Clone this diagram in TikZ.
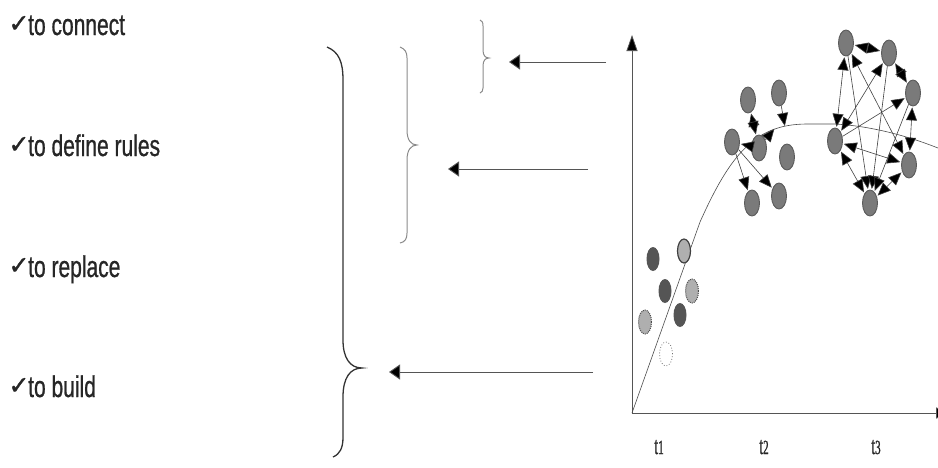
\documentclass[tikz,border=0pt]{standalone}
\usepackage{fontspec}
\setmainfont{Liberation Sans}
\newfontfamily\labfont[FakeStretch=0.7,FakeBold=0.8]{Liberation Sans}
\newfontfamily\tickfont[FakeStretch=0.55,FakeBold=1]{Liberation Serif}
\newfontfamily\symfont[FakeBold=1.5]{DejaVu Sans}
\usetikzlibrary{arrows.meta,shapes.geometric}
\definecolor{nodegray}{HTML}{7A7A7A}
\definecolor{nodeedge}{HTML}{5A5A5A}
\definecolor{darknode}{HTML}{555555}
\definecolor{lightnode}{HTML}{AFAFAF}
\definecolor{bracegray}{HTML}{8A8A8A}
\definecolor{linegray}{HTML}{555555}
\tikzset{
  item/.style={anchor=base west, inner sep=0pt, font=\labfont\fontsize{30}{32}\selectfont, text=black!85},
  tick/.style={inner sep=0pt, font=\symfont\fontsize{25}{27}\selectfont, text=black!85},
  tlabel/.style={anchor=base, inner sep=0pt, font=\tickfont\fontsize{25}{27}\selectfont, text=black!85},
  gnode/.style={ellipse, minimum width=15pt, minimum height=26pt, inner sep=0pt, fill=nodegray, draw=nodeedge, line width=0.9pt},
  dnode/.style={ellipse, minimum width=13pt, minimum height=24pt, inner sep=0pt, fill=darknode},
  lnode/.style={ellipse, minimum width=13pt, minimum height=24pt, inner sep=0pt, fill=lightnode, draw=black!70, densely dotted, line width=1pt},
  snode/.style={ellipse, minimum width=13pt, minimum height=24pt, inner sep=0pt, fill=lightnode, draw=black!75, line width=1.2pt},
  wnode/.style={ellipse, minimum width=13pt, minimum height=24pt, inner sep=0pt, draw=black!55, dotted, line width=0.8pt},
  netarrow/.style={line width=0.6pt, draw=black!75, {Triangle[length=13pt,width=11pt,fill=black]}-{Triangle[length=13pt,width=11pt,fill=black]}, shorten <=1pt, shorten >=1pt},
  onearrow/.style={line width=0.6pt, draw=black!75, -{Triangle[length=13pt,width=11pt,fill=black]}, shorten >=1pt},
  bigarrow/.style={line width=0.9pt, draw=linegray, -{Triangle[length=11pt,width=15pt,fill=black]}},
  axis/.style={line width=0.8pt, draw=linegray, -{Triangle[length=16pt,width=11pt,fill=black]}},
  bracebig/.style={line width=1.3pt, draw=black!80},
  bracesmall/.style={line width=1pt, draw=bracegray},
}
\begin{document}
\begin{tikzpicture}[x=1pt,y=-1pt]
\useasboundingbox (0,0) rectangle (938,467);
\clip (0,0) rectangle (938,467);

% left list
\node[tick] (c1) at (19,24) {✓};
\node[item] (l1) at (28,35) {to connect};
\node[tick] (c2) at (19,145) {✓};
\node[item] (l2) at (28,156) {to define rules};
\node[tick] (c3) at (19,266) {✓};
\node[item] (l3) at (28,277) {to replace};
\node[tick] (c4) at (19,386) {✓};
\node[item] (l4) at (28,397) {to build};

% braces
\draw[bracebig] (327,47) .. controls (339,52) and (343,62) .. (343,80) -- (343,340)
  .. controls (343,358) and (350,368) .. (362,368)
  .. controls (350,368) and (343,378) .. (343,397) -- (343,437)
  .. controls (343,448) and (340,454) .. (333,457);
\draw[bracesmall] (400,47) .. controls (405,49) and (407,52) .. (407,58) -- (407,130)
  .. controls (407,140) and (411,145) .. (417,145)
  .. controls (411,145) and (407,150) .. (407,160) -- (407,233)
  .. controls (407,239) and (405,242) .. (400,243);
\draw[bracesmall] (480,20) .. controls (482,21) and (483,22) .. (483,26) -- (483,50)
  .. controls (483,55) and (485,58) .. (489,58)
  .. controls (485,58) and (483,61) .. (483,66) -- (483,88)
  .. controls (483,91) and (482,92) .. (480,93);

% arrows from the graph
\coordinate (a1s) at (606,62);
\coordinate (a1e) at (509,62);
\coordinate (a2s) at (588,169);
\coordinate (a2e) at (448,169);
\coordinate (a3s) at (593,372);
\coordinate (a3e) at (389,372);
\draw[bigarrow] (a1s) -- (a1e);
\draw[bigarrow] (a2s) -- (a2e);
\draw[bigarrow] (a3s) -- (a3e);

% axes
\coordinate (o) at (632,413);
\coordinate (ytop) at (632,35);
\coordinate (xend) at (952,413);
\draw[axis] (o) -- (ytop);
\draw[axis] (o) -- (xend);

% growth curve
\draw[line width=0.6pt, draw=black!70] (o) -- (700,222) .. controls (718,182) and (735,152) .. (760,136)
  .. controls (775,127) and (790,124) .. (808,124) -- (835,124)
  .. controls (870,126) and (905,135) .. (938,148);

% time labels
\node[tlabel] (t1) at (659,454) {t{\fontsize{20}{21}\selectfont 1}};
\node[tlabel] (t2) at (764,454) {t{\fontsize{20}{21}\selectfont 2}};
\node[tlabel] (t3) at (876,454) {t{\fontsize{20}{21}\selectfont 3}};

% t1 group
\node[dnode] (u1) at (653,259) {};
\node[snode] (u2) at (684,251) {};
\node[dnode] (u3) at (665,291) {};
\node[lnode] (u4) at (692,291) {};
\node[dnode] (u5) at (680,315) {};
\node[lnode] (u6) at (645,322) {};
\node[wnode] (u7) at (666,354) {};

% t2 group
\node[gnode] (p1) at (748,100) {};
\node[gnode] (p2) at (779,93) {};
\node[gnode] (p3) at (732,142) {};
\node[gnode] (p4) at (759,148) {};
\node[gnode] (p5) at (787,157) {};
\node[gnode] (p6) at (752,203) {};
\node[gnode] (p7) at (779,196) {};
\draw[netarrow] (p1) -- (p4);
\draw[onearrow] (p2) -- (785,127);
\draw[onearrow] (p4) -- (775,128);
\draw[onearrow] (p4) -- (p3);
\draw[onearrow] (p3) -- (p6);
\draw[onearrow] (p3) -- (p7);

% t3 group
\node[gnode] (q1) at (846,43) {};
\node[gnode] (q2) at (889,53) {};
\node[gnode] (q3) at (913,93) {};
\node[gnode] (q4) at (835,141) {};
\node[gnode] (q5) at (909,165) {};
\node[gnode] (q6) at (870,203) {};
\draw[netarrow] (q1) -- (q2);
\draw[netarrow] (q2) -- (q3);
\draw[netarrow] (q3) -- (q5);
\draw[netarrow] (q5) -- (q6);
\draw[netarrow] (q4) -- (q6);
\draw[netarrow] (q1) -- (q4);
\draw[netarrow] (q1) -- (q5);
\draw[netarrow] (q2) -- (q4);
\draw[onearrow] (q1) -- (q6);
\draw[onearrow] (q2) -- (q6);
\draw[onearrow] (q3) -- (q6);
\draw[onearrow] (q4) -- (q3);
\draw[netarrow] (q4) -- (q5);
\end{tikzpicture}
\end{document}
